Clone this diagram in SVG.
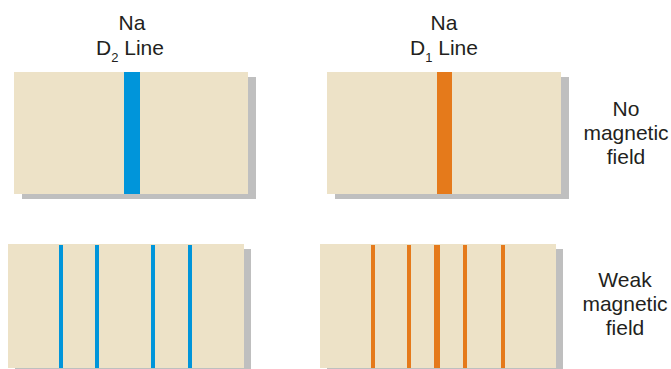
<svg xmlns="http://www.w3.org/2000/svg" width="671" height="369" viewBox="0 0 671 369">
<style>
.panel{fill:#EDE2C7}
.shadow{fill:#BFBFBF}
.blue{fill:#0095DA}
.orange{fill:#E57A1B}
text{font-family:"Liberation Sans",Arial,sans-serif;font-size:21px;fill:#231F20;text-anchor:middle}
.sub{font-size:13px}
</style>
<rect width="671" height="369" fill="#FFFFFF"/>
<g id="label-d2">
<text x="132" y="30">Na</text>
<text x="130" y="55">D<tspan class="sub" dy="7">2</tspan><tspan dy="-7"> Line</tspan></text>
</g>
<g id="label-d1">
<text x="444" y="30">Na</text>
<text x="444" y="55">D<tspan class="sub" dy="7">1</tspan><tspan dy="-7">  Line</tspan></text>
</g>
<g id="panel-d2-none">
<rect class="shadow" x="22" y="77" width="234" height="122"/>
<rect class="panel" x="14" y="72" width="234" height="122"/>
<rect class="blue" x="124" y="72" width="16" height="122"/>
</g>
<g id="panel-d1-none">
<rect class="shadow" x="335" y="77" width="234" height="122"/>
<rect class="panel" x="327" y="72" width="234" height="122"/>
<rect class="orange" x="437" y="72" width="15" height="122"/>
</g>
<g id="label-none">
<text x="626" y="116">No</text>
<text x="626" y="140">magnetic</text>
<text x="626" y="164">field</text>
</g>
<g id="panel-d2-weak">
<rect class="shadow" x="15" y="249" width="236" height="124"/>
<rect class="panel" x="8" y="244" width="236" height="124"/>
<rect class="blue" x="59" y="245" width="4" height="123"/>
<rect class="blue" x="95" y="245" width="4" height="123"/>
<rect class="blue" x="151" y="245" width="4" height="123"/>
<rect class="blue" x="188" y="245" width="4" height="123"/>
</g>
<g id="panel-d1-weak">
<rect class="shadow" x="327" y="249" width="236" height="124"/>
<rect class="panel" x="320" y="244" width="236" height="124"/>
<rect class="orange" x="371" y="245" width="4" height="123"/>
<rect class="orange" x="407" y="245" width="4" height="123"/>
<rect class="orange" x="434" y="245" width="6" height="123"/>
<rect class="orange" x="463" y="245" width="4" height="123"/>
<rect class="orange" x="501" y="245" width="4" height="123"/>
</g>
<g id="label-weak">
<text x="625" y="287">Weak</text>
<text x="625" y="311">magnetic</text>
<text x="625" y="335">field</text>
</g>
<g id="connectors"></g>
</svg>
